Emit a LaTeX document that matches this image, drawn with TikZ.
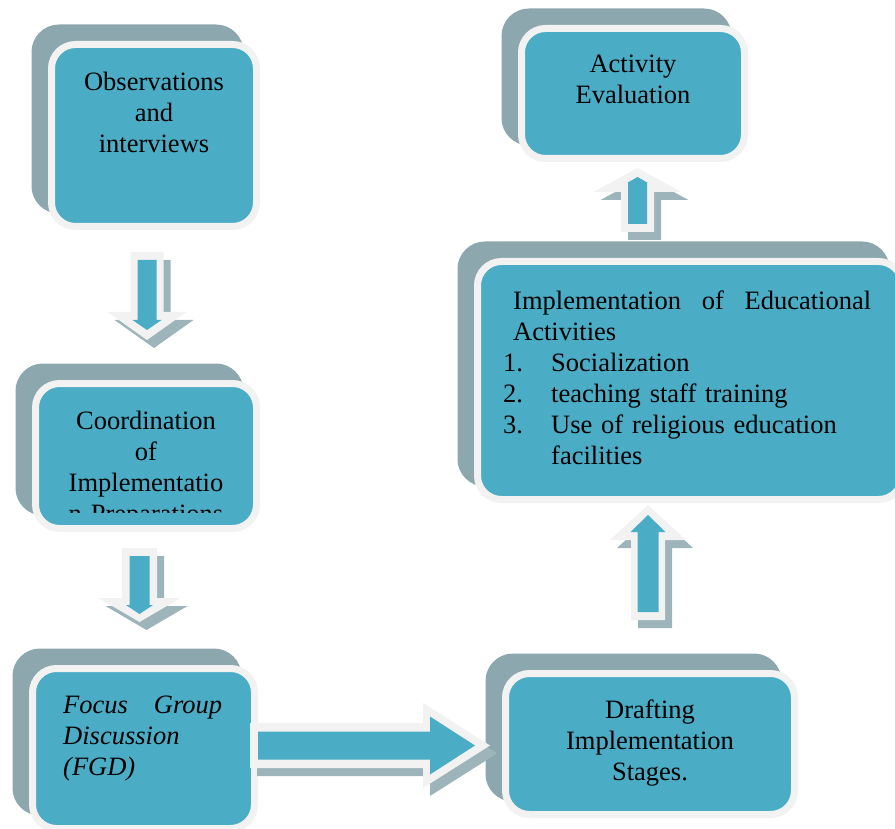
\documentclass[tikz,border=0pt]{standalone}
\usepackage{fontspec}
\setmainfont{Liberation Serif}
\usepackage{tikz}
\usetikzlibrary{calc, shadows}
\setlength{\parindent}{0pt}

\definecolor{boxfill}{HTML}{4BACC6}
\definecolor{boxshade}{HTML}{8CA8AE}
\definecolor{rim}{HTML}{F2F2F2}

% one arrow outline: tail, tip, shaft half width, head half width, head length, colour
\newcommand{\arrowpoly}[6]{%
  \path ($(#2)!#5pt!(#1)$) coordinate (nk);
  \fill[#6] ($(#1)!#3pt!90:(#2)$) -- ($(nk)!#3pt!90:(#2)$) -- ($(nk)!#4pt!90:(#2)$) -- (#2)
    -- ($(nk)!#4pt!-90:(#2)$) -- ($(nk)!#3pt!-90:(#2)$) -- ($(#1)!#3pt!-90:(#2)$) -- cycle;}

% shaded block arrow: outer sizes #3-#5, inner sizes #6-#8, tip inset #9
\newcommand{\blockarrow}[9]{%
  \begin{scope}[transform canvas={xshift=7pt, yshift=-8pt}]
    \arrowpoly{#1}{#2}{#3}{#4}{#5}{boxshade!85}
  \end{scope}
  \arrowpoly{#1}{#2}{#3}{#4}{#5}{rim}
  \path ($(#1)!8pt!(#2)$) coordinate (it) ($(#2)!#9pt!(#1)$) coordinate (ih);
  \arrowpoly{it}{ih}{#6}{#7}{#8}{boxfill}}

\begin{document}
\begin{tikzpicture}[x=1pt, y=-1pt]
\tikzstyle{card}=[rectangle, rounded corners=24pt, fill=boxfill, draw=rim, line width=7pt,
  general shadow={shadow xshift=-16.5pt, shadow yshift=16.5pt, fill=boxshade, draw=boxshade, line width=7pt}]
\tikzstyle{words}=[inner sep=0pt, text width=210pt, align=center, font=\fontsize{26.5}{31}\selectfont]
\clip (0,0) rectangle (895,829);

% boxes
\node[card, minimum width=205pt, minimum height=182pt] (obs) at (154,135.5) {};
\node[card, minimum width=221pt, minimum height=145pt] (coord) at (146,456) {};
\node[card, minimum width=222pt, minimum height=160pt] (fgd) at (143.5,748.5) {};
\node[card, minimum width=289pt, minimum height=141pt] (draft) at (650,744) {};
\node[card, minimum width=425pt, minimum height=238pt] (impl) at (690,380.5) {};
\node[card, minimum width=223pt, minimum height=130pt] (evalbox) at (633,93.5) {};

% texts
\node[words, anchor=base] (obstext) at (154,91) {Observations\\and\\interviews};
\begin{scope}
\clip (coord.north west) rectangle ([yshift=20pt]coord.south east);
\node[words, anchor=base] (coordtext) at (146,429) {Coordination\\of\\Implementatio\\n Preparations};
\end{scope}
\node[words, anchor=base west, text width=159pt, align=left, font=\fontsize{26.5}{31}\selectfont\itshape]
  (fgdtext) at (63,713) {Focus\hfill Group\\Discussion\\(FGD)};
\node[words, anchor=base] (drafttext) at (650,718) {Drafting\\Implementation\\Stages.};
\node[words, anchor=base west, text width=368pt, align=left] (impltext) at (503,310)
  {\hspace*{10pt}Implementation\hfill of\hfill Educational\\
   \hspace*{10pt}Activities\\
   \makebox[48pt][l]{1.}Socialization\\
   \makebox[48pt][l]{2.}teaching staff training\\
   \makebox[48pt][l]{3.}Use of religious education\\
   \hspace*{48pt}facilities};
\node[words, anchor=base] (evaltext) at (633,73) {Activity\\Evaluation};

% connectors
\coordinate (t1) at (147,252);   \coordinate (h1) at (147,340);
\coordinate (t2) at (139.5,548); \coordinate (h2) at (139.5,622);
\coordinate (t3) at (250,745.5); \coordinate (h3) at (490,745.5);
\coordinate (t4) at (648,620);   \coordinate (h4) at (648,505);
\coordinate (t5) at (637.5,232); \coordinate (h5) at (637.5,168);

\blockarrow{t1}{h1}{16.5}{39.5}{28}{9.5}{14.5}{10}{10}
\blockarrow{t2}{h2}{17.5}{41}{24}{10}{13.5}{9}{8}
\blockarrow{t3}{h3}{22.5}{42.5}{67}{14}{29}{45}{15}
\blockarrow{t4}{h4}{17}{38}{35}{10.5}{17.5}{17}{10}
\blockarrow{t5}{h5}{16.5}{44}{24}{9.5}{10.5}{6}{9}
\end{tikzpicture}
\end{document}
